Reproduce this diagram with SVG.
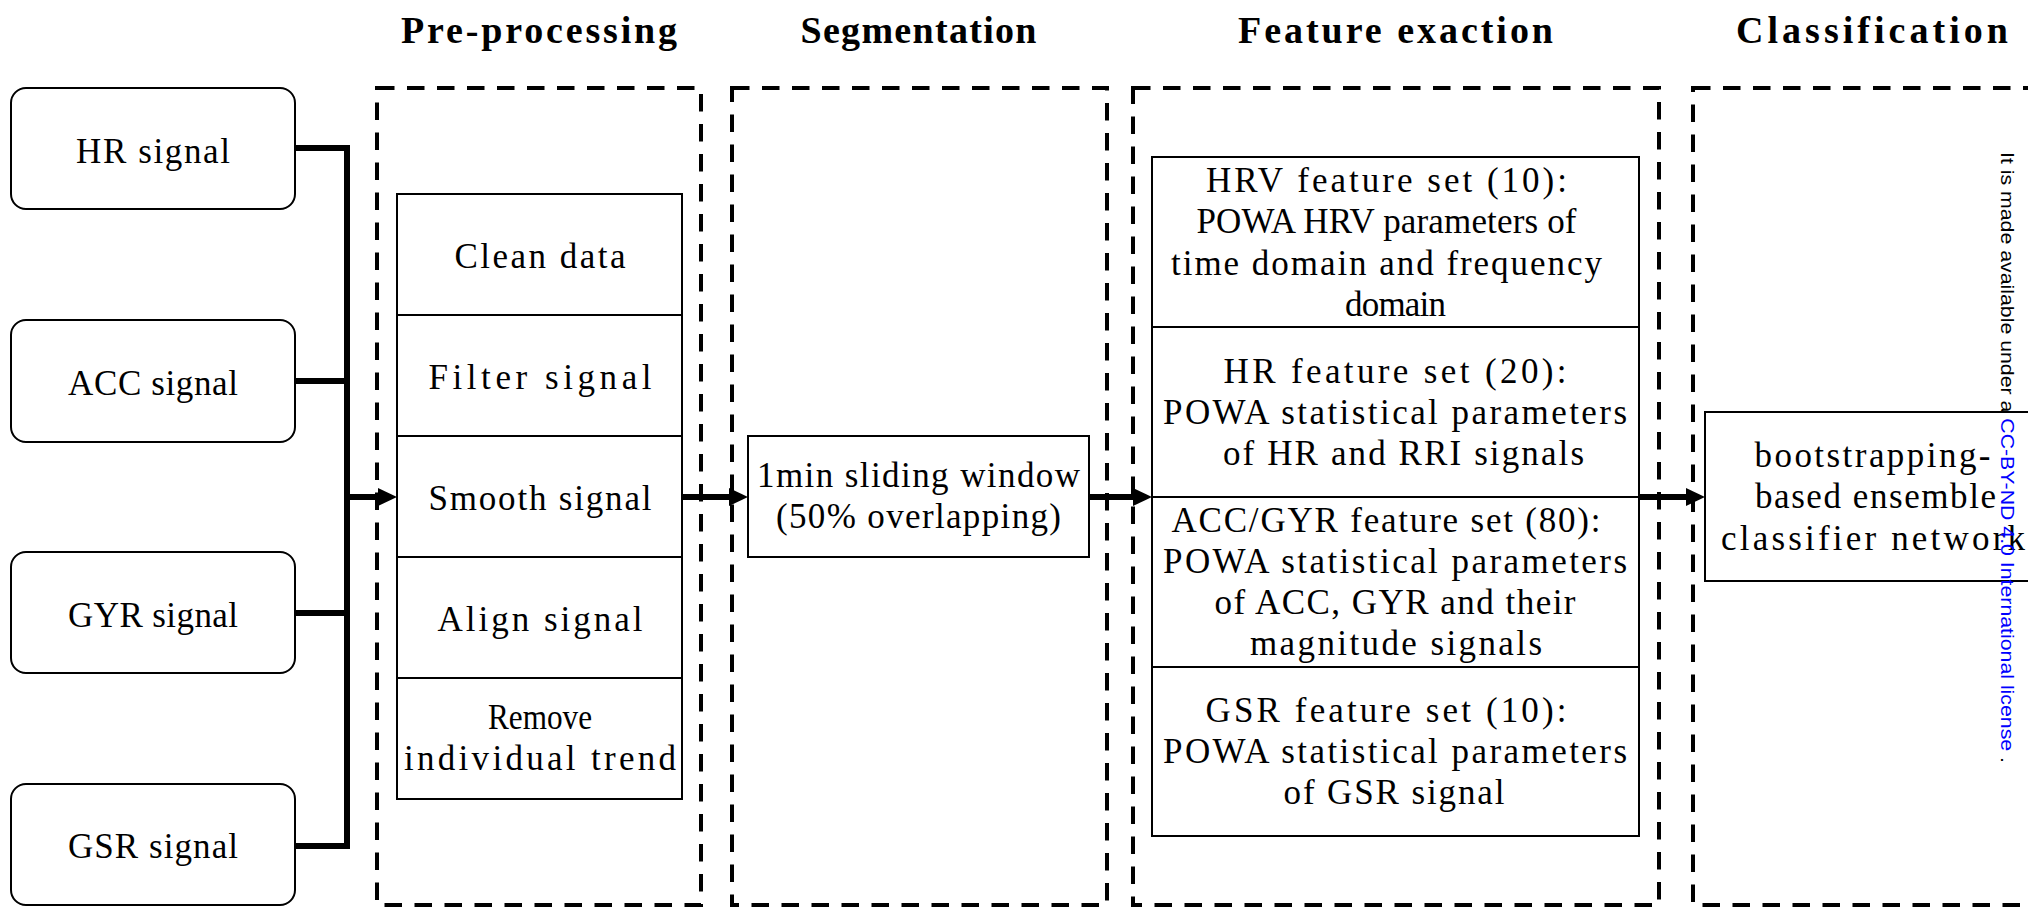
<svg xmlns="http://www.w3.org/2000/svg" width="2028" height="907" viewBox="0 0 2028 907">
<style>
.dash{fill:none;stroke:#000;stroke-width:4;stroke-dasharray:17.5 12.5}
.sig{fill:#fff;stroke:#000;stroke-width:2}
.box{fill:#fff;stroke:#000;stroke-width:2}
.t{font-family:"Liberation Serif","Times New Roman",serif;font-size:35px;text-anchor:middle;fill:#000}
.title{font-family:"Liberation Serif","Times New Roman",serif;font-size:38px;font-weight:bold;text-anchor:middle;fill:#000}
.conn{fill:none;stroke:#000;stroke-width:6;stroke-linejoin:miter}
.arrow{fill:none;stroke:#000;stroke-width:6;marker-end:url(#ah)}
.wm{font-family:"Liberation Sans",Arial,sans-serif;font-size:21px;fill:#000}
</style>
<defs>
<marker id="ah" markerUnits="userSpaceOnUse" markerWidth="20" markerHeight="18" refX="1" refY="9" orient="auto">
<path d="M0,0 L19,9 L0,18 z" fill="#000"/>
</marker>
</defs>
<rect x="0" y="0" width="2028" height="907" fill="#fff"/>

<g id="stage-preprocessing">
<text class="title" x="539" y="43" textLength="276" lengthAdjust="spacing">Pre-processing</text>
<rect class="dash" x="377" y="88" width="324" height="817"/>
</g>
<g id="stage-segmentation">
<text class="title" x="918.5" y="43" textLength="236" lengthAdjust="spacing">Segmentation</text>
<rect class="dash" x="732" y="88" width="375" height="817"/>
</g>
<g id="stage-feature">
<text class="title" x="1395.5" y="43" textLength="315" lengthAdjust="spacing">Feature exaction</text>
<rect class="dash" x="1133" y="88" width="526" height="817"/>
</g>
<g id="stage-classification">
<text class="title" x="1872" y="43" textLength="272" lengthAdjust="spacing">Classification</text>
<rect class="dash" x="1693" y="88" width="400" height="817"/>
</g>

<g id="hr-signal">
<rect class="sig" x="11" y="88" width="284" height="121" rx="15" ry="15"/>
<text class="t" x="153" y="163" textLength="154" lengthAdjust="spacing">HR signal</text>
</g>
<g id="acc-signal">
<rect class="sig" x="11" y="320" width="284" height="122" rx="15" ry="15"/>
<text class="t" x="153" y="395" textLength="170" lengthAdjust="spacing">ACC signal</text>
</g>
<g id="gyr-signal">
<rect class="sig" x="11" y="552" width="284" height="121" rx="15" ry="15"/>
<text class="t" x="153" y="627" textLength="170" lengthAdjust="spacing">GYR signal</text>
</g>
<g id="gsr-signal">
<rect class="sig" x="11" y="784" width="284" height="121" rx="15" ry="15"/>
<text class="t" x="153" y="858" textLength="170" lengthAdjust="spacing">GSR signal</text>
</g>

<g id="clean-data">
<rect class="box" x="397" y="194" width="285" height="121"/>
<text class="t" x="540" y="268" textLength="171" lengthAdjust="spacing">Clean data</text>
</g>
<g id="filter-signal">
<rect class="box" x="397" y="315" width="285" height="121"/>
<text class="t" x="540" y="389" textLength="223" lengthAdjust="spacing">Filter signal</text>
</g>
<g id="smooth-signal">
<rect class="box" x="397" y="436" width="285" height="121"/>
<text class="t" x="540" y="510" textLength="223" lengthAdjust="spacing">Smooth signal</text>
</g>
<g id="align-signal">
<rect class="box" x="397" y="557" width="285" height="121"/>
<text class="t" x="540" y="631" textLength="205" lengthAdjust="spacing">Align signal</text>
</g>
<g id="remove-trend">
<rect class="box" x="397" y="678" width="285" height="121"/>
<text class="t" x="540" y="729" textLength="104" lengthAdjust="spacingAndGlyphs">Remove</text>
<text class="t" x="540" y="770" textLength="272" lengthAdjust="spacing">individual trend</text>
</g>

<g id="sliding-window">
<rect class="box" x="748" y="436" width="341" height="121"/>
<text class="t" x="918.5" y="487" textLength="323" lengthAdjust="spacing">1min sliding window</text>
<text class="t" x="918.5" y="528" textLength="285" lengthAdjust="spacing">(50% overlapping)</text>
</g>

<g id="hrv-features">
<rect class="box" x="1152" y="157" width="487" height="170"/>
<text class="t" x="1386.5" y="192" textLength="361" lengthAdjust="spacing">HRV feature set (10):</text>
<text class="t" x="1386.5" y="233" textLength="380" lengthAdjust="spacing">POWA HRV parameters of</text>
<text class="t" x="1386.5" y="275" textLength="431" lengthAdjust="spacing">time domain and frequency</text>
<text class="t" x="1395.5" y="316" textLength="101" lengthAdjust="spacing">domain</text>
</g>
<g id="hr-features">
<rect class="box" x="1152" y="327" width="487" height="170"/>
<text class="t" x="1395" y="383" textLength="343" lengthAdjust="spacing">HR feature set (20):</text>
<text class="t" x="1395" y="424" textLength="464" lengthAdjust="spacing">POWA statistical parameters</text>
<text class="t" x="1403.5" y="465" textLength="361" lengthAdjust="spacing">of HR and RRI signals</text>
</g>
<g id="accgyr-features">
<rect class="box" x="1152" y="497" width="487" height="170"/>
<text class="t" x="1386" y="532" textLength="429" lengthAdjust="spacing">ACC/GYR feature set (80):</text>
<text class="t" x="1395" y="573" textLength="464" lengthAdjust="spacing">POWA statistical parameters</text>
<text class="t" x="1395" y="614" textLength="361" lengthAdjust="spacing">of ACC, GYR and their</text>
<text class="t" x="1396" y="655" textLength="292" lengthAdjust="spacing">magnitude signals</text>
</g>
<g id="gsr-features">
<rect class="box" x="1152" y="667" width="487" height="169"/>
<text class="t" x="1386" y="722" textLength="361" lengthAdjust="spacing">GSR feature set (10):</text>
<text class="t" x="1395" y="763" textLength="464" lengthAdjust="spacing">POWA statistical parameters</text>
<text class="t" x="1394" y="804" textLength="221" lengthAdjust="spacing">of GSR signal</text>
</g>

<g id="ensemble-classifier">
<rect class="box" x="1705" y="412" width="336" height="169"/>
<text class="t" x="1872.5" y="467" textLength="236" lengthAdjust="spacing">bootstrapping-</text>
<text class="t" x="1875.5" y="508" textLength="241" lengthAdjust="spacing">based ensemble</text>
<text class="t" x="1873" y="550" textLength="304" lengthAdjust="spacing">classifier network</text>
</g>

<g id="connectors">
<path class="conn" d="M295,148 H347 V846 H295"/>
<path class="conn" d="M295,381 H347"/>
<path class="conn" d="M295,613 H347"/>
<path class="arrow" d="M347,497 H379"/>
<path class="arrow" d="M682,497 H730"/>
<path class="arrow" d="M1089,497 H1134"/>
<path class="arrow" d="M1639,497 H1687"/>
</g>

<text class="wm" transform="translate(2001,152) scale(0.85,1) rotate(90)" textLength="611" lengthAdjust="spacingAndGlyphs">It is made available under a <tspan fill="#0000ff">CC-BY-ND 4.0 International license</tspan> .</text>
</svg>
